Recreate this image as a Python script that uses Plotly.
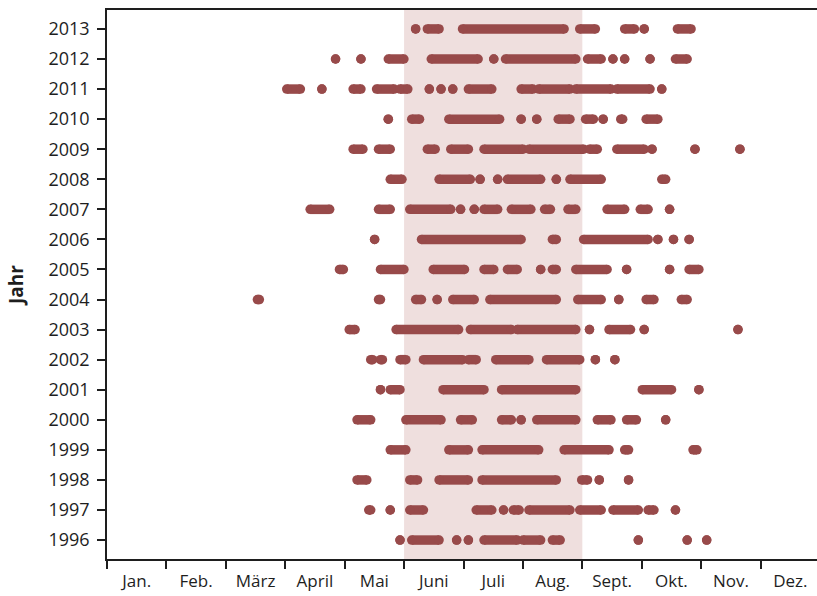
import plotly.graph_objects as go

# ---- data: hot-day runs (day of year, start..end) ----
years = list(range(1996, 2014))

hot_1996 = [(151, 151), (157, 171), (180, 180), (186, 186), (194, 211), (214, 223), (229, 233), (273, 273), (298, 298), (308, 308)]
hot_1997 = [(135, 136), (146, 146), (156, 163), (190, 198), (204, 204), (209, 212), (217, 238), (243, 254), (260, 273), (278, 281), (292, 292)]
hot_1998 = [(129, 134), (156, 160), (171, 186), (193, 231), (244, 247), (253, 253), (268, 268)]
hot_1999 = [(146, 154), (176, 186), (193, 222), (235, 258), (266, 268), (301, 303)]
hot_2000 = [(129, 136), (154, 172), (182, 188), (203, 208), (213, 213), (221, 241), (252, 259), (267, 272), (287, 287)]
hot_2001 = [(141, 141), (146, 151), (173, 194), (203, 241), (275, 290), (304, 304)]
hot_2002 = [(136, 137), (141, 142), (151, 154), (163, 183), (186, 190), (200, 217), (226, 243), (251, 251), (261, 261)]
hot_2003 = [(125, 128), (149, 181), (187, 208), (211, 241), (248, 248), (258, 269), (276, 276), (324, 324)]
hot_2004 = [(78, 79), (140, 141), (159, 162), (170, 170), (178, 189), (197, 231), (242, 254), (263, 263), (277, 281), (295, 298)]
hot_2005 = [(120, 122), (141, 153), (168, 184), (194, 199), (206, 211), (223, 223), (229, 231), (241, 257), (267, 267), (289, 289), (299, 304)]
hot_2006 = [(138, 138), (162, 213), (229, 231), (245, 278), (283, 283), (291, 291), (299, 299)]
hot_2007 = [(105, 115), (140, 146), (156, 177), (182, 182), (189, 189), (194, 201), (208, 218), (225, 228), (237, 241), (257, 266), (274, 278), (289, 289)]
hot_2008 = [(146, 152), (171, 187), (192, 192), (201, 201), (206, 223), (231, 231), (238, 254), (285, 287)]
hot_2009 = [(127, 132), (140, 146), (165, 169), (177, 186), (194, 214), (217, 245), (248, 252), (262, 276), (280, 280), (302, 302), (325, 325)]
hot_2010 = [(145, 145), (157, 161), (176, 202), (213, 213), (221, 221), (232, 238), (246, 250), (255, 255), (264, 265), (277, 283)]
hot_2011 = [(93, 100), (111, 111), (127, 131), (139, 148), (151, 155), (166, 166), (172, 172), (178, 178), (186, 198), (213, 219), (222, 238), (241, 259), (262, 279), (285, 285)]
hot_2012 = [(118, 118), (131, 131), (145, 153), (167, 191), (199, 199), (205, 241), (247, 254), (260, 260), (266, 266), (279, 279), (292, 298)]
hot_2013 = [(159, 159), (165, 171), (183, 235), (243, 251), (266, 271), (276, 276), (293, 300)]

runs_by_year = [hot_1996, hot_1997, hot_1998, hot_1999, hot_2000, hot_2001, hot_2002, hot_2003, hot_2004,
                hot_2005, hot_2006, hot_2007, hot_2008, hot_2009, hot_2010, hot_2011, hot_2012, hot_2013]

month_labels = ["Jan.", "Feb.", "März", "April", "Mai", "Juni", "Juli", "Aug.", "Sept.", "Okt.", "Nov.", "Dez."]
summer_start_month = 5   # 1 June
summer_end_month = 8     # 1 Sept.

DOT = "#984a4a"
SHADE = "#efdfde"
AX = "#1e1e1e"
FONT = "Open Sans"


def doy_to_month(d):
    return (d - 1) * 12.0 / 365.0


xs, ys = [], []
for yr, runs in zip(years, runs_by_year):
    for a, b in runs:
        xs += [doy_to_month(a), doy_to_month(b), None]
        ys += [yr, yr, None]

fig = go.Figure()
fig.add_trace(go.Scatter(
    x=xs, y=ys, mode="lines+markers",
    line=dict(color=DOT, width=9.5),
    marker=dict(color=DOT, size=9.5, line=dict(width=0)),
    connectgaps=False, hoverinfo="skip", showlegend=False,
))

fig.add_shape(type="rect", xref="x", yref="paper",
              x0=summer_start_month, x1=summer_end_month, y0=0, y1=1,
              fillcolor=SHADE, line=dict(width=0), layer="below")

W, H = 817, 596
L, R, T, B = 107, 0, 10, 37
month_px = 713 / 12.0
x_max = (W - L - R) / month_px

fig.update_layout(
    width=W, height=H,
    margin=dict(l=L, r=R, t=T, b=B, autoexpand=False),
    paper_bgcolor="white", plot_bgcolor="white",
    font=dict(family=FONT, size=18, color=AX),
    xaxis=dict(
        range=[0, x_max], automargin=False,
        tickmode="array",
        tickvals=[k + 0.5 for k in range(12)],
        ticktext=month_labels,
        ticks="outside", ticklen=6, tickcolor="rgba(0,0,0,0)",
        minor=dict(tickmode="array", tickvals=list(range(13)), ticks="outside",
                   ticklen=8, tickwidth=1.5, tickcolor=AX, showgrid=False),
        showline=True, linecolor=AX, linewidth=1.5, mirror=True,
        showgrid=False, zeroline=False,
        tickfont=dict(family=FONT, size=17, color=AX),
    ),
    yaxis=dict(
        range=[1995.37, 2013.63], automargin=False,
        tickmode="array", tickvals=years, ticktext=[str(y) for y in years],
        ticks="outside", ticklen=8, tickwidth=1.5, tickcolor=AX,
        ticklabelstandoff=4,
        showline=True, linecolor=AX, linewidth=1.5,
        showgrid=False, zeroline=False,
        tickfont=dict(family=FONT, size=18, color=AX),
        title=dict(text="<b>Jahr</b>", font=dict(family=FONT, size=19, color=AX), standoff=20),
    ),
)

fig.write_html(
    "out.html",
    config={"displayModeBar": False},
    post_script=(
        "document.documentElement.style.margin='0';"
        "document.documentElement.style.overflow='hidden';"
        "document.body.style.margin='0';document.body.style.overflow='hidden';"
    ),
)
